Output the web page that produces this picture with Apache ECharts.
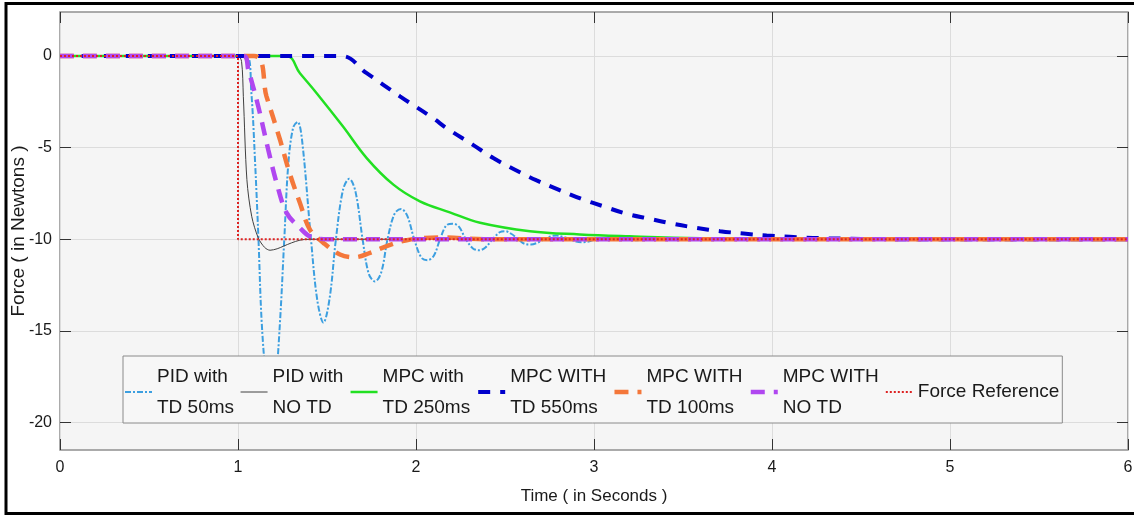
<!DOCTYPE html>
<html>
<head>
<meta charset="utf-8">
<script src="https://cdn.jsdelivr.net/npm/echarts@6/dist/echarts.min.js"></script>
<style>
  html, body { margin: 0; padding: 0; background: #ffffff; }
  #chart { width: 1134px; height: 516px; }
</style>
</head>
<body>
<div id="chart"></div>
<script>
// Force response to a -10 N step at t = 1 s, [time (s), force (N)] pairs.
const pidTd50 = [
  [0, 0], [1.05, 0], [1.075, -2.0], [1.096, -5.8], [1.115, -10], [1.133, -14.5], [1.16, -17.8],
  [1.185, -19.0], [1.21, -17.9], [1.236, -14.5], [1.26, -10], [1.283, -5.84], [1.31, -3.9],
  [1.335, -3.6], [1.36, -4.6], [1.41, -10], [1.445, -13.3], [1.48, -14.55], [1.515, -13.2],
  [1.55, -10], [1.59, -7.3], [1.625, -6.7], [1.66, -7.4], [1.7, -10], [1.735, -11.9],
  [1.77, -12.3], [1.805, -11.8], [1.84, -10], [1.88, -8.6], [1.916, -8.35], [1.95, -8.7],
  [1.99, -10], [2.03, -11], [2.064, -11.14], [2.1, -10.9], [2.135, -10], [2.17, -9.25],
  [2.206, -9.15], [2.24, -9.3], [2.28, -10], [2.32, -10.5], [2.356, -10.6], [2.39, -10.45],
  [2.43, -10], [2.47, -9.62], [2.5, -9.56], [2.535, -9.7], [2.575, -10], [2.61, -10.25],
  [2.646, -10.29], [2.68, -10.2], [2.72, -10], [2.76, -9.83], [2.79, -9.8], [2.83, -9.88],
  [2.865, -10], [2.9, -10.13], [2.94, -10.16], [2.98, -10.1], [3.01, -10], [3.08, -9.92],
  [3.16, -10], [3.23, -10.06], [3.3, -10], [6, -10]
];
const pidNoTd = [
  [0, 0], [1.0, 0], [1.02, -0.3], [1.03, -2.2], [1.05, -6.75], [1.077, -8.75], [1.114, -9.93],
  [1.15, -10.45], [1.18, -10.6], [1.22, -10.52], [1.255, -10.38], [1.3, -10.2], [1.348, -10.05],
  [1.4, -10], [6, -10]
];
const mpcTd250 = [
  [0, 0], [1.27, 0], [1.348, -0.94], [1.442, -2.03], [1.59, -3.85], [1.723, -5.57],
  [1.873, -7.02], [2.022, -7.93], [2.19, -8.53], [2.36, -9.1], [2.64, -9.56], [2.92, -9.74],
  [3.2, -9.84], [3.6, -9.94], [4.2, -10], [6, -10]
];
const mpcTd550 = [
  [0, 0], [1.58, 0], [1.723, -0.94], [1.91, -2.2], [2.097, -3.4], [2.172, -3.94], [2.32, -4.85],
  [2.434, -5.57], [2.556, -6.21], [2.678, -6.79], [2.8, -7.29], [2.93, -7.8], [3.052, -8.2],
  [3.18, -8.6], [3.315, -8.89], [3.445, -9.16], [3.577, -9.38], [3.708, -9.56], [3.84, -9.69],
  [3.97, -9.8], [4.1, -9.87], [4.23, -9.93], [4.5, -9.98], [5, -10], [6, -10]
];
const mpcTd100 = [
  [0, 0], [1.09, 0], [1.16, -2.2], [1.236, -4.57], [1.29, -6.39], [1.348, -8.02], [1.404, -9.47],
  [1.48, -10.2], [1.573, -10.83], [1.657, -10.98], [1.742, -10.74], [1.835, -10.38],
  [1.948, -10.05], [2.13, -9.9], [2.4, -10], [6, -10]
];
const mpcNoTd = [
  [0, 0], [1.03, 0], [1.058, -0.76], [1.114, -2.76], [1.17, -5.12], [1.217, -6.93],
  [1.273, -8.56], [1.348, -9.38], [1.404, -9.84], [1.5, -10], [6, -10]
];
const forceRef = [[0, 0], [1, 0], [1, -10], [6, -10]];

const seriesNames = [
  'PID with\nTD 50ms', 'PID with\nNO TD', 'MPC with\nTD 250ms', 'MPC WITH\nTD 550ms',
  'MPC WITH\nTD 100ms', 'MPC WITH\nNO TD', 'Force Reference'
];
const yTicks = [-20, -15, -10, -5, 0];

const FONT = "'Liberation Sans', Arial, sans-serif";
const chart = echarts.init(document.getElementById('chart'), null, { renderer: 'canvas' });

function lineSeries(name, data, color, width, type, smooth) {
  return {
    name: name, type: 'line', data: data, symbol: 'none', smooth: smooth,
    xAxisIndex: 0, yAxisIndex: 0, animation: false,
    lineStyle: { color: color, width: width, type: type },
    itemStyle: { color: color }
  };
}

const tickStyle = { show: true, inside: true, length: 11, lineStyle: { color: '#333', width: 1 } };
const hiddenLine = { show: false, onZero: false };

chart.setOption({
  backgroundColor: '#ffffff',
  animation: false,
  textStyle: { fontFamily: FONT },
  grid: {
    left: 60, top: 12, right: 6, bottom: 66,
    outerBoundsMode: 'none', containLabel: false,
    show: true, backgroundColor: '#f5f5f5', borderColor: '#909090', borderWidth: 1.5
  },
  xAxis: [{
    type: 'value', min: 0, max: 6, interval: 1,
    name: 'Time ( in Seconds )', nameLocation: 'middle', nameGap: 38, nameMoveOverlap: false,
    nameTextStyle: { color: '#1a1a1a', fontSize: 17, fontFamily: FONT },
    axisLine: hiddenLine,
    axisTick: tickStyle,
    axisLabel: { color: '#1a1a1a', fontSize: 16, margin: 10, fontFamily: FONT },
    splitLine: { show: true, lineStyle: { color: '#dcdcdc', width: 1 } }
  }, {
    type: 'value', position: 'top', min: 0, max: 6, interval: 1,
    axisLine: hiddenLine, axisTick: tickStyle,
    axisLabel: { show: false }, splitLine: { show: false }
  }],
  yAxis: [{
    type: 'value', min: -21.5, max: 2.4,
    name: 'Force ( in Newtons )', nameLocation: 'middle', nameGap: 32, nameMoveOverlap: false,
    nameTextStyle: { color: '#1a1a1a', fontSize: 19, fontFamily: FONT },
    axisLine: hiddenLine,
    axisTick: Object.assign({ customValues: yTicks }, tickStyle),
    axisLabel: { customValues: yTicks, color: '#1a1a1a', fontSize: 16, margin: 8, fontFamily: FONT },
    splitLine: { show: true, lineStyle: { color: '#dcdcdc', width: 1 } }
  }, {
    type: 'value', position: 'right', min: -21.5, max: 2.4,
    axisLine: hiddenLine,
    axisTick: Object.assign({ customValues: yTicks }, tickStyle),
    axisLabel: { show: false }, splitLine: { show: false }
  }],
  legend: {
    left: 123, top: 356, orient: 'horizontal',
    itemWidth: 27, itemHeight: 10, itemGap: 6,
    padding: [5, 3, 0, 1],
    backgroundColor: '#f7f7f7', borderColor: '#8a8a8a', borderWidth: 1,
    itemStyle: { opacity: 0, borderWidth: 0 },
    lineStyle: { width: 'inherit' },
    textStyle: { color: '#1a1a1a', fontSize: 19, lineHeight: 31, fontFamily: FONT },
    data: seriesNames
  },
  series: [
    lineSeries(seriesNames[0], pidTd50, '#3c9fe0', 2, [6, 2, 2, 2], 0.35),
    lineSeries(seriesNames[1], pidNoTd, '#404040', 1, 'solid', 0.3),
    lineSeries(seriesNames[2], mpcTd250, '#22e022', 2.5, 'solid', 0.4),
    lineSeries(seriesNames[3], mpcTd550, '#0000cc', 4, [12, 10], 0.4),
    lineSeries(seriesNames[4], mpcTd100, '#f4773a', 4.5, [14, 9], 0.35),
    lineSeries(seriesNames[5], mpcNoTd, '#b047f0', 4.5, [14, 9], 0.35),
    lineSeries(seriesNames[6], forceRef, '#dd2222', 2, [2, 2], false)
  ],
  graphic: [{
    type: 'rect', silent: true, z: 100,
    shape: { x: 6, y: 3.5, width: 1132, height: 510 },
    style: { fill: 'none', stroke: '#000000', lineWidth: 3 }
  }]
});
</script>
</body>
</html>
